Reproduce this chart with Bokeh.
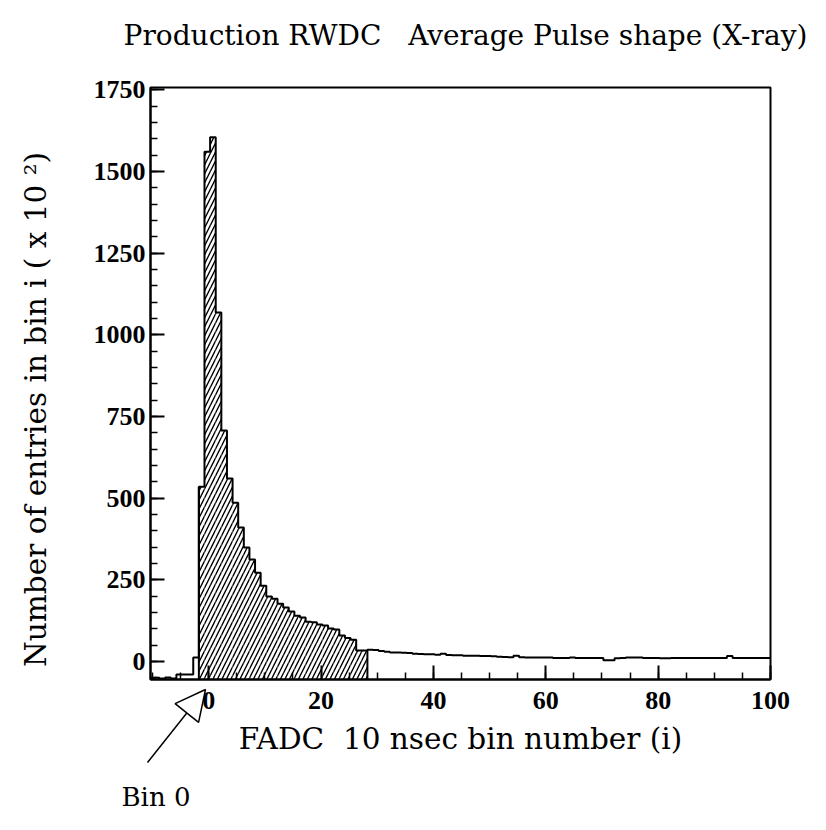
import math
from bokeh.plotting import figure
from bokeh.models import (Range1d, FixedTicker, Label, Arrow, NormalHead, GridBox, Column)
from bokeh.embed import file_html
from bokeh.resources import INLINE

# ---------------- data ----------------
BIN_START = -10.75      # left edge of first bin
BIN_WIDTH = 1.0

# bins left of the pulse (pedestal region), 9 bins
pre_values = [-52, -50, -52, -49, -52, -40, -40, -40, 12]
# hatched pulse region, 30 bins starting at -1.75
pulse_values = [535, 1560, 1605, 1068, 707, 560, 486, 410, 349, 312,
                272, 232, 199, 192, 177, 165, 153, 140, 135, 122,
                120, 113, 110, 101, 98, 80, 72, 67, 34, 34]
# tail after the pulse, 72 bins starting at 28.25
tail_values = [36, 35, 32, 30, 28, 28, 27, 26, 24, 23,
               22, 22, 21, 24, 20, 19, 19, 18, 18, 18,
               17, 17, 16, 15, 14, 13, 18, 13, 12, 12,
               12, 12, 12, 11, 11, 11, 12, 11, 11, 11,
               11, 11, 4, 4, 10, 11, 12, 12, 12, 11,
               11, 11, 10, 10, 11, 11, 11, 11, 11, 11,
               11, 11, 11, 11, 17, 11, 11, 11, 11, 11,
               11, 11]

x_major = [0, 20, 40, 60, 80, 100]
x_minor = list(range(-10, 101, 5))
y_major = [0, 250, 500, 750, 1000, 1250, 1500, 1750]
y_minor = list(range(-50, 1751, 50))

X_MIN, X_MAX = -10.36, 100
Y_MIN, Y_MAX = -55, 1757

TITLE = "Production RWDC \u00a0 Average Pulse shape (X-ray)"
X_LABEL = "FADC \u00a010 nsec bin number (i)"
Y_LABEL = "Number of entries in bin i ( x 10 \u00b2)"
NOTE = "Bin 0"

SERIF = "DejaVu Serif"
NUM_FONT = "Liberation Serif"

W, H = 810, 814

# ---------------- derived ----------------
values = pre_values + pulse_values + tail_values
n = len(values)
edges = [BIN_START + i * BIN_WIDTH for i in range(n + 1)]
i0 = len(pre_values)
i1 = i0 + len(pulse_values)
h_left = edges[i0:i1]
h_right = edges[i0 + 1:i1 + 1]

p = figure(width=W, height=H, output_backend="svg", toolbar_location=None,
           x_range=Range1d(X_MIN, X_MAX), y_range=Range1d(Y_MIN, Y_MAX),
           min_border_left=150, min_border_right=40,
           min_border_top=87, min_border_bottom=135)

p.xgrid.visible = False
p.ygrid.visible = False
p.outline_line_color = "black"
p.outline_line_width = 2
p.background_fill_color = "white"
p.border_fill_color = "white"

# hatched pulse bars
p.quad(left=h_left, right=h_right, bottom=[Y_MIN] * len(h_left), top=pulse_values,
       fill_alpha=0, line_alpha=0, hatch_pattern="/", hatch_color="black",
       hatch_weight=1.4, hatch_scale=9)

# histogram outline
p.step(x=edges, y=values + [values[-1]], mode="after", line_color="black", line_width=2)
p.segment(x0=[h_left[0], h_right[-1]], y0=[Y_MIN, Y_MIN],
          x1=[h_left[0], h_right[-1]], y1=[pulse_values[0], pulse_values[-1]],
          line_color="black", line_width=2)

for ax in (p.xaxis[0], p.yaxis[0]):
    ax.major_tick_in = 14
    ax.major_tick_out = 0
    ax.minor_tick_in = 7
    ax.minor_tick_out = 0
    ax.axis_line_width = 2
    ax.axis_line_color = "black"
    ax.major_tick_line_color = "black"
    ax.minor_tick_line_color = "black"
    ax.major_tick_line_width = 2
    ax.minor_tick_line_width = 1.5
    ax.major_label_text_font = NUM_FONT
    ax.major_label_text_font_style = "bold"
    ax.major_label_text_font_size = "26px"
    ax.major_label_text_color = "black"
    ax.axis_label_text_font = SERIF
    ax.axis_label_text_font_style = "normal"
    ax.axis_label_text_color = "black"

p.xaxis.axis_label_text_font_size = "29.5px"
p.xaxis.ticker = FixedTicker(ticks=x_major, minor_ticks=x_minor)
p.yaxis.ticker = FixedTicker(ticks=y_major, minor_ticks=y_minor)
p.xaxis.axis_label = X_LABEL
p.xaxis.major_label_standoff = 12
p.yaxis.major_label_standoff = 5
p.xaxis.axis_label_standoff = 10

# transparent overlay in canvas pixel coordinates: title, y label and the
# "Bin 0" pointer, which all lie outside the plotting frame
ov = figure(width=W, height=H, output_backend="svg", toolbar_location=None,
            x_range=Range1d(0, W), y_range=Range1d(H, 0),
            x_axis_type=None, y_axis_type=None, min_border=0)
ov.xgrid.visible = False
ov.ygrid.visible = False
ov.outline_line_color = None
ov.background_fill_alpha = 0
ov.border_fill_alpha = 0

ov.add_layout(Label(x=465, y=35, text=TITLE, text_font=SERIF, text_font_size="28px",
                    text_color="black", text_align="center", text_baseline="middle"))
ov.add_layout(Label(x=35, y=409, text=Y_LABEL, text_font=SERIF, text_font_size="29.5px",
                    text_color="black", text_align="center", text_baseline="middle",
                    angle=math.pi / 2))
ov.add_layout(Label(x=121, y=796, text=NOTE, text_font=SERIF, text_font_size="26px",
                    text_color="black", text_baseline="middle"))
ov.add_layout(Arrow(end=NormalHead(size=30, fill_color="white", line_color="black", line_width=1.5),
                    x_start=147, y_start=762, x_end=205, y_end=689,
                    line_color="black", line_width=1.5))

layout = GridBox(children=[(p, 0, 0), (Column(children=[ov]), 0, 0)])

open("out.html", "w").write(file_html(layout, INLINE))
